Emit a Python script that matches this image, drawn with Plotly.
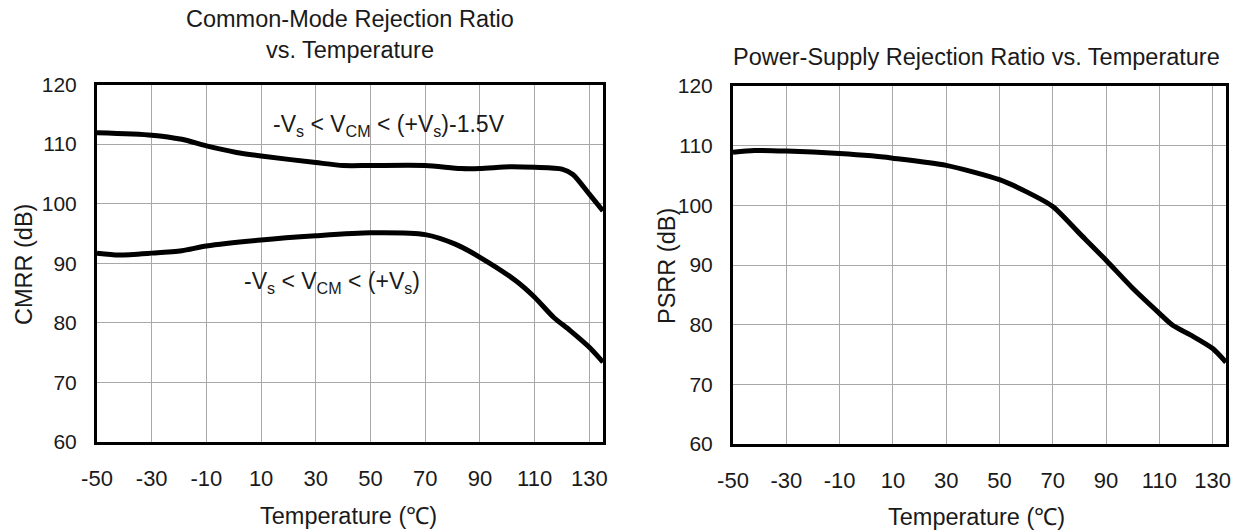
import plotly.graph_objects as go

# ---- data ----
temp_cmrr_hi = [-50, -30, -19, -10, 1, 10, 30, 40, 50, 70, 83, 90, 101, 110, 120, 124, 130, 135]
cmrr_hi = [111.9, 111.5, 110.8, 109.7, 108.6, 108.0, 106.9, 106.4, 106.4, 106.4, 105.9, 105.9, 106.2, 106.1, 105.8, 104.9, 101.6, 98.8]

temp_cmrr_lo = [-50, -42, -30, -19, -10, 10, 30, 50, 70, 81, 90, 103, 110, 117, 123, 130, 135]
cmrr_lo = [91.7, 91.4, 91.7, 92.1, 92.9, 93.9, 94.6, 95.1, 94.8, 93.2, 91.0, 87.1, 84.3, 80.9, 78.7, 75.9, 73.4]

temp_psrr = [-50, -42, -30, -10, 2, 10, 30, 50, 60, 70, 80, 90, 100, 110, 115, 122, 130, 135]
psrr = [108.9, 109.2, 109.1, 108.7, 108.3, 107.9, 106.7, 104.3, 102.3, 99.8, 95.3, 90.8, 86.1, 81.9, 79.9, 78.2, 76.0, 73.7]

x_ticks = [-50, -30, -10, 10, 30, 50, 70, 90, 110, 130]
x_ticktext = ["-50", "-30", "-10", "10", "30", "50", "70", "90", "110", "130"]
y_ticks = [60, 70, 80, 90, 100, 110, 120]

label_hi = "-V<sub>s</sub> < V<sub>CM</sub> < (+V<sub>s</sub>)-1.5V"
label_lo = "-V<sub>s</sub> < V<sub>CM</sub> < (+V<sub>s</sub>)"
title_left = "Common-Mode Rejection Ratio<br>vs. Temperature"
title_right = "Power-Supply Rejection Ratio vs. Temperature"
xtitle = "Temperature (℃)"
ytitle_left = "CMRR (dB)"
ytitle_right = "PSRR (dB)"

W, H = 1237, 532
FONT = "Liberation Sans, Arial, sans-serif"
TXT = "#1a1a1a"

fig = go.Figure()
line = dict(color="black", width=5, shape="spline", smoothing=0.7)
fig.add_trace(go.Scatter(x=temp_cmrr_hi, y=cmrr_hi, mode="lines", line=line, xaxis="x", yaxis="y", showlegend=False))
fig.add_trace(go.Scatter(x=temp_cmrr_lo, y=cmrr_lo, mode="lines", line=line, xaxis="x", yaxis="y", showlegend=False))
fig.add_trace(go.Scatter(x=temp_psrr, y=psrr, mode="lines", line=line, xaxis="x2", yaxis="y2", showlegend=False))


def px_x(p):
    return p / W


def px_y(p):
    return 1 - p / H


axis_common = dict(
    showgrid=True, gridcolor="#a8a8a8", gridwidth=1,
    showline=True, linecolor="black", linewidth=3, mirror=True,
    ticks="", zeroline=False, automargin=False,
)

xcommon = dict(axis_common, range=[-50, 135], tickvals=x_ticks, ticktext=x_ticktext, ticklabelstandoff=15,
               tickfont=dict(family=FONT, size=22, color=TXT))
ycommon = dict(axis_common, range=[60, 120], tickvals=y_ticks, ticklabelstandoff=13,
               tickfont=dict(family=FONT, size=21, color=TXT))

title_font = dict(family=FONT, size=23.5, color=TXT)
axis_title_font = dict(family=FONT, size=23.5, color=TXT)
label_font = dict(family=FONT, size=23, color=TXT)

fig.update_layout(
    width=W, height=H,
    margin=dict(l=0, r=0, t=0, b=0),
    paper_bgcolor="white", plot_bgcolor="white",
    xaxis=dict(xcommon, domain=[px_x(97), px_x(603)], anchor="y"),
    yaxis=dict(ycommon, domain=[px_y(442), px_y(84.5)], anchor="x"),
    xaxis2=dict(xcommon, domain=[px_x(733), px_x(1226)], anchor="y2"),
    yaxis2=dict(ycommon, domain=[px_y(444), px_y(86)], anchor="x2"),
    annotations=[
        dict(text=title_left, x=px_x(350), y=px_y(34), xref="paper", yref="paper",
             xanchor="center", yanchor="middle", showarrow=False, font=title_font),
        dict(text=title_right, x=px_x(976), y=px_y(57), xref="paper", yref="paper",
             xanchor="center", yanchor="middle", showarrow=False, font=title_font),
        dict(text=xtitle, x=px_x(348), y=px_y(516), xref="paper", yref="paper",
             xanchor="center", yanchor="middle", showarrow=False, font=axis_title_font),
        dict(text=xtitle, x=px_x(976), y=px_y(517), xref="paper", yref="paper",
             xanchor="center", yanchor="middle", showarrow=False, font=axis_title_font),
        dict(text=ytitle_left, x=px_x(24), y=px_y(265), xref="paper", yref="paper", textangle=-90,
             xanchor="center", yanchor="middle", showarrow=False, font=axis_title_font),
        dict(text=ytitle_right, x=px_x(667), y=px_y(266), xref="paper", yref="paper", textangle=-90,
             xanchor="center", yanchor="middle", showarrow=False, font=axis_title_font),
        dict(text=label_hi, x=56.8, y=113.2, xref="x", yref="y", xanchor="center", yanchor="middle",
             showarrow=False, font=label_font),
        dict(text=label_lo, x=35.9, y=86.7, xref="x", yref="y", xanchor="center", yanchor="middle",
             showarrow=False, font=label_font),
    ],
)

fig.write_html("out.html")
